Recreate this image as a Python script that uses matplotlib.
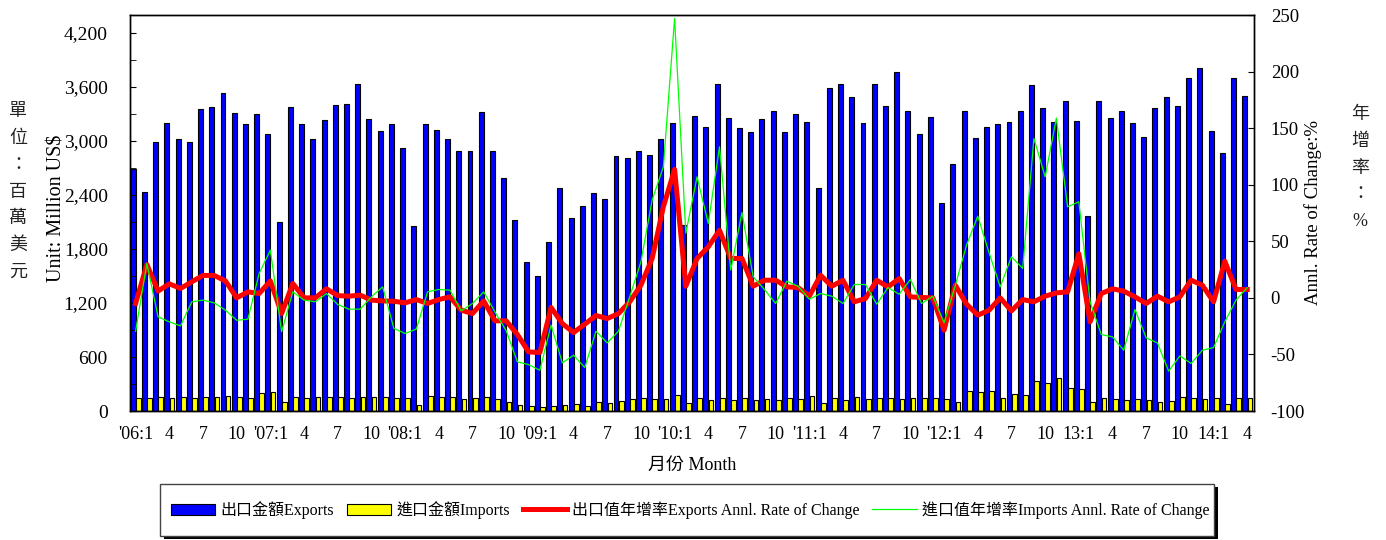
import numpy as np
import matplotlib
matplotlib.use('Agg')
import matplotlib.pyplot as plt
from matplotlib.patches import Rectangle
from matplotlib.ticker import MultipleLocator, FuncFormatter

plt.rcParams['font.family'] = ['Liberation Serif', 'Noto Sans CJK TC']
plt.rcParams['axes.unicode_minus'] = False

# 2006:1 - 2014:4 月資料 (百萬美元)
exports = [2690, 2432, 2991, 3196, 3025, 2991, 3351, 3374, 3533, 3314, 3185, 3296,
           3073, 2098, 3374, 3189, 3018, 3236, 3403, 3414, 3633, 3244, 3107, 3185,
           2921, 2054, 3189, 3125, 3025, 2891, 2893, 3325, 2893, 2584, 2121, 1661,
           1501, 1879, 2473, 2143, 2280, 2421, 2351, 2832, 2810, 2893, 2847, 3021,
           3203, 2062, 3274, 3151, 3637, 3251, 3148, 3103, 3240, 3336, 3103, 3299,
           3207, 2473, 3585, 3633, 3488, 3199, 3637, 3392, 3770, 3336, 3080, 3269,
           2313, 2747, 3329, 3036, 3151, 3185, 3207, 3329, 3618, 3362, 3207, 3440,
           3218, 2165, 3444, 3258, 3336, 3196, 3040, 3369, 3492, 3388, 3696, 3811,
           3114, 2862, 3696, 3503]
imports = [148, 148, 152, 148, 156, 148, 159, 159, 170, 156, 145, 204,
           211, 100, 159, 145, 152, 156, 152, 141, 152, 156, 159, 148,
           141, 70, 170, 159, 159, 137, 145, 152, 130, 104, 70, 59,
           48, 59, 70, 78, 59, 96, 85, 107, 130, 141, 130, 130,
           178, 85, 148, 126, 145, 119, 148, 126, 137, 126, 148, 137,
           170, 89, 148, 119, 159, 133, 145, 141, 137, 148, 141, 145,
           137, 100, 222, 208, 222, 144, 193, 174, 337, 311, 363, 256,
           248, 100, 149, 137, 119, 133, 122, 100, 115, 152, 148, 137,
           141, 74, 145, 145]
# 年增率 (%)
exp_rate = [-5, 29.5, 6, 12.4, 8.3, 14.2, 19.8, 19.8, 15, 0, 5.3, 3.8,
            15, -13.9, 12.7, 0, 0, 8, 2, 1.5, 2.4, -2, -2.7, -3,
            -4.4, -1.5, -5, -1.5, 0.9, -10.9, -13.9, -2.7, -20.3, -20.3, -32.4, -47.8,
            -48.3, -8.5, -22.7, -30.7, -23.3, -15.6, -18.3, -13.9, -3.5, 11.2, 34.8, 80.5,
            113.5, 10.3, 34.8, 45.1, 59.8, 34.8, 34.8, 10.3, 15.6, 15.6, 9.7, 9.1,
            1.5, 20, 10.3, 15.6, -3.5, -0.6, 15.6, 9.7, 17.1, 0.9, 0.3, 0,
            -28.6, 11.2, -5.6, -15.3, -11, 0, -11.5, -1.5, -3.5, 1.5, 4.4, 5.3,
            39, -21.2, 3.8, 8, 5.9, 0.9, -5, 1.5, -3.5, 0.9, 15.6, 11.2,
            -3.5, 32.4, 7.4, 7.4]
imp_rate = [-29.5, 30.4, -16.8, -21.2, -24.8, -3.5, -2, -4.4, -10.9, -19.8, -18.9, 21.5,
            42.2, -30, 5.3, -2, -3.5, 3.8, -5.9, -10, -10, 0.9, 9.7, -27,
            -31.5, -27.6, 5.3, 7.4, 6.8, -11.5, -5, 5.3, -12.5, -29, -56.6, -59,
            -64, -24, -57.5, -50.7, -61.6, -29.5, -39.8, -29.5, 0.9, 31.8, 86.4, 115.9,
            247, 57, 107, 65.8, 133.5, 24.5, 75.5, 18.6, 7.4, -5, 14.7, 10.3,
            -1.2, 3.8, 1.5, -5, 11.8, 11.8, -5.6, 9.1, 3.2, 16.2, -5, 1.5,
            -22, 11, 46.6, 72.2, 40, 9.7, 36.3, 26, 140.9, 107, 158.9, 80.5,
            84.9, -3.5, -32.4, -34.5, -46.3, -10.3, -35.4, -39.8, -64.8, -51.3, -58, -46.3,
            -43.9, -21.2, -2, 9.1]

tick_labels = ["'06:1", '4', '7', '10', "'07:1", '4', '7', '10', "'08:1", '4', '7', '10',
               "'09:1", '4', '7', '10', "'10:1", '4', '7', '10', "'11:1", '4', '7', '10',
               "'12:1", '4', '7', '10', '13:1', '4', '7', '10', '14:1', '4']

x = np.arange(len(exports))

W, H = 1386, 540
fig = plt.figure(figsize=(W / 100, H / 100), dpi=100)
ax = fig.add_axes([130/W, 1-411/H, 1124/W, 396/H])
ax2 = ax.twinx()

b1 = ax.bar(x, exports, width=-0.44, align='edge', color='#0000FF', edgecolor='black', linewidth=0.8,
            label='出口金額Exports')
b2 = ax.bar(x + 0.03, imports, width=0.42, align='edge', color='#FFFF00', edgecolor='black', linewidth=0.8,
            label='進口金額Imports')

l1, = ax2.plot(x, exp_rate, color='#FF0000', linewidth=3.6, label='出口值年增率Exports Annl. Rate of Change')
l2, = ax2.plot(x, imp_rate, color='#00FF00', linewidth=0.9, label='進口值年增率Imports Annl. Rate of Change')

ax.set_xlim(-0.5, 99.6)
ax.set_ylim(0, 4400)
ax2.set_ylim(-100, 250)

ax.yaxis.set_major_locator(MultipleLocator(600))
ax.yaxis.set_minor_locator(MultipleLocator(300))
ax.yaxis.set_major_formatter(FuncFormatter(lambda v, p: f'{int(v):,}'))
ax2.yaxis.set_major_locator(MultipleLocator(50))

ax.set_xticks(x[::3])
ax.set_xticklabels(tick_labels)
ax.tick_params(axis='x', length=0, pad=11, labelsize=13)
ax.tick_params(axis='y', which='both', direction='in', length=4, pad=16, labelsize=14)
ax2.tick_params(axis='y', direction='in', length=4, pad=12, labelsize=13.5)
for a in (ax, ax2):
    for s in a.spines.values():
        s.set_linewidth(1.0)

ax.set_xlabel('月份 Month', fontsize=13, labelpad=10)

# 軸標題
fig.text(57/W, 1-208/H, 'Unit: Million US$', rotation=90, ha='center', va='center', fontsize=14.5)
fig.text(18/W, 1-192/H, '單\n位\n：\n百\n萬\n美\n元', ha='center', va='center', fontsize=13,
         linespacing=1.75, color='#222222')
fig.text(1313/W, 1-213/H, 'Annl. Rate of Change:%', rotation=90, ha='center', va='center', fontsize=13.5)
fig.text(1360/W, 1-168/H, '年\n增\n率\n：\n%', ha='center', va='center', fontsize=13,
         linespacing=1.75, color='#222222')

# 圖例外框 (含黑色陰影)
fig.patches.append(Rectangle((164/W, 1-539/H), 1054/W, 52/H, transform=fig.transFigure,
                             facecolor='black', edgecolor='none', zorder=0))
fig.patches.append(Rectangle((160/W, 1-536/H), 1054/W, 52/H, transform=fig.transFigure,
                             facecolor='white', edgecolor='#444444', linewidth=1.0, zorder=1))

leg = fig.legend(handles=[b1, b2, l1, l2], loc='center', bbox_to_anchor=(690/W, 1-510/H),
                 ncol=4, fontsize=11.5, frameon=False,
                 handlelength=2.8, handletextpad=0.3, columnspacing=0.8, borderpad=0.2)
leg.set_zorder(5)

fig.savefig('out.png', dpi=100)
